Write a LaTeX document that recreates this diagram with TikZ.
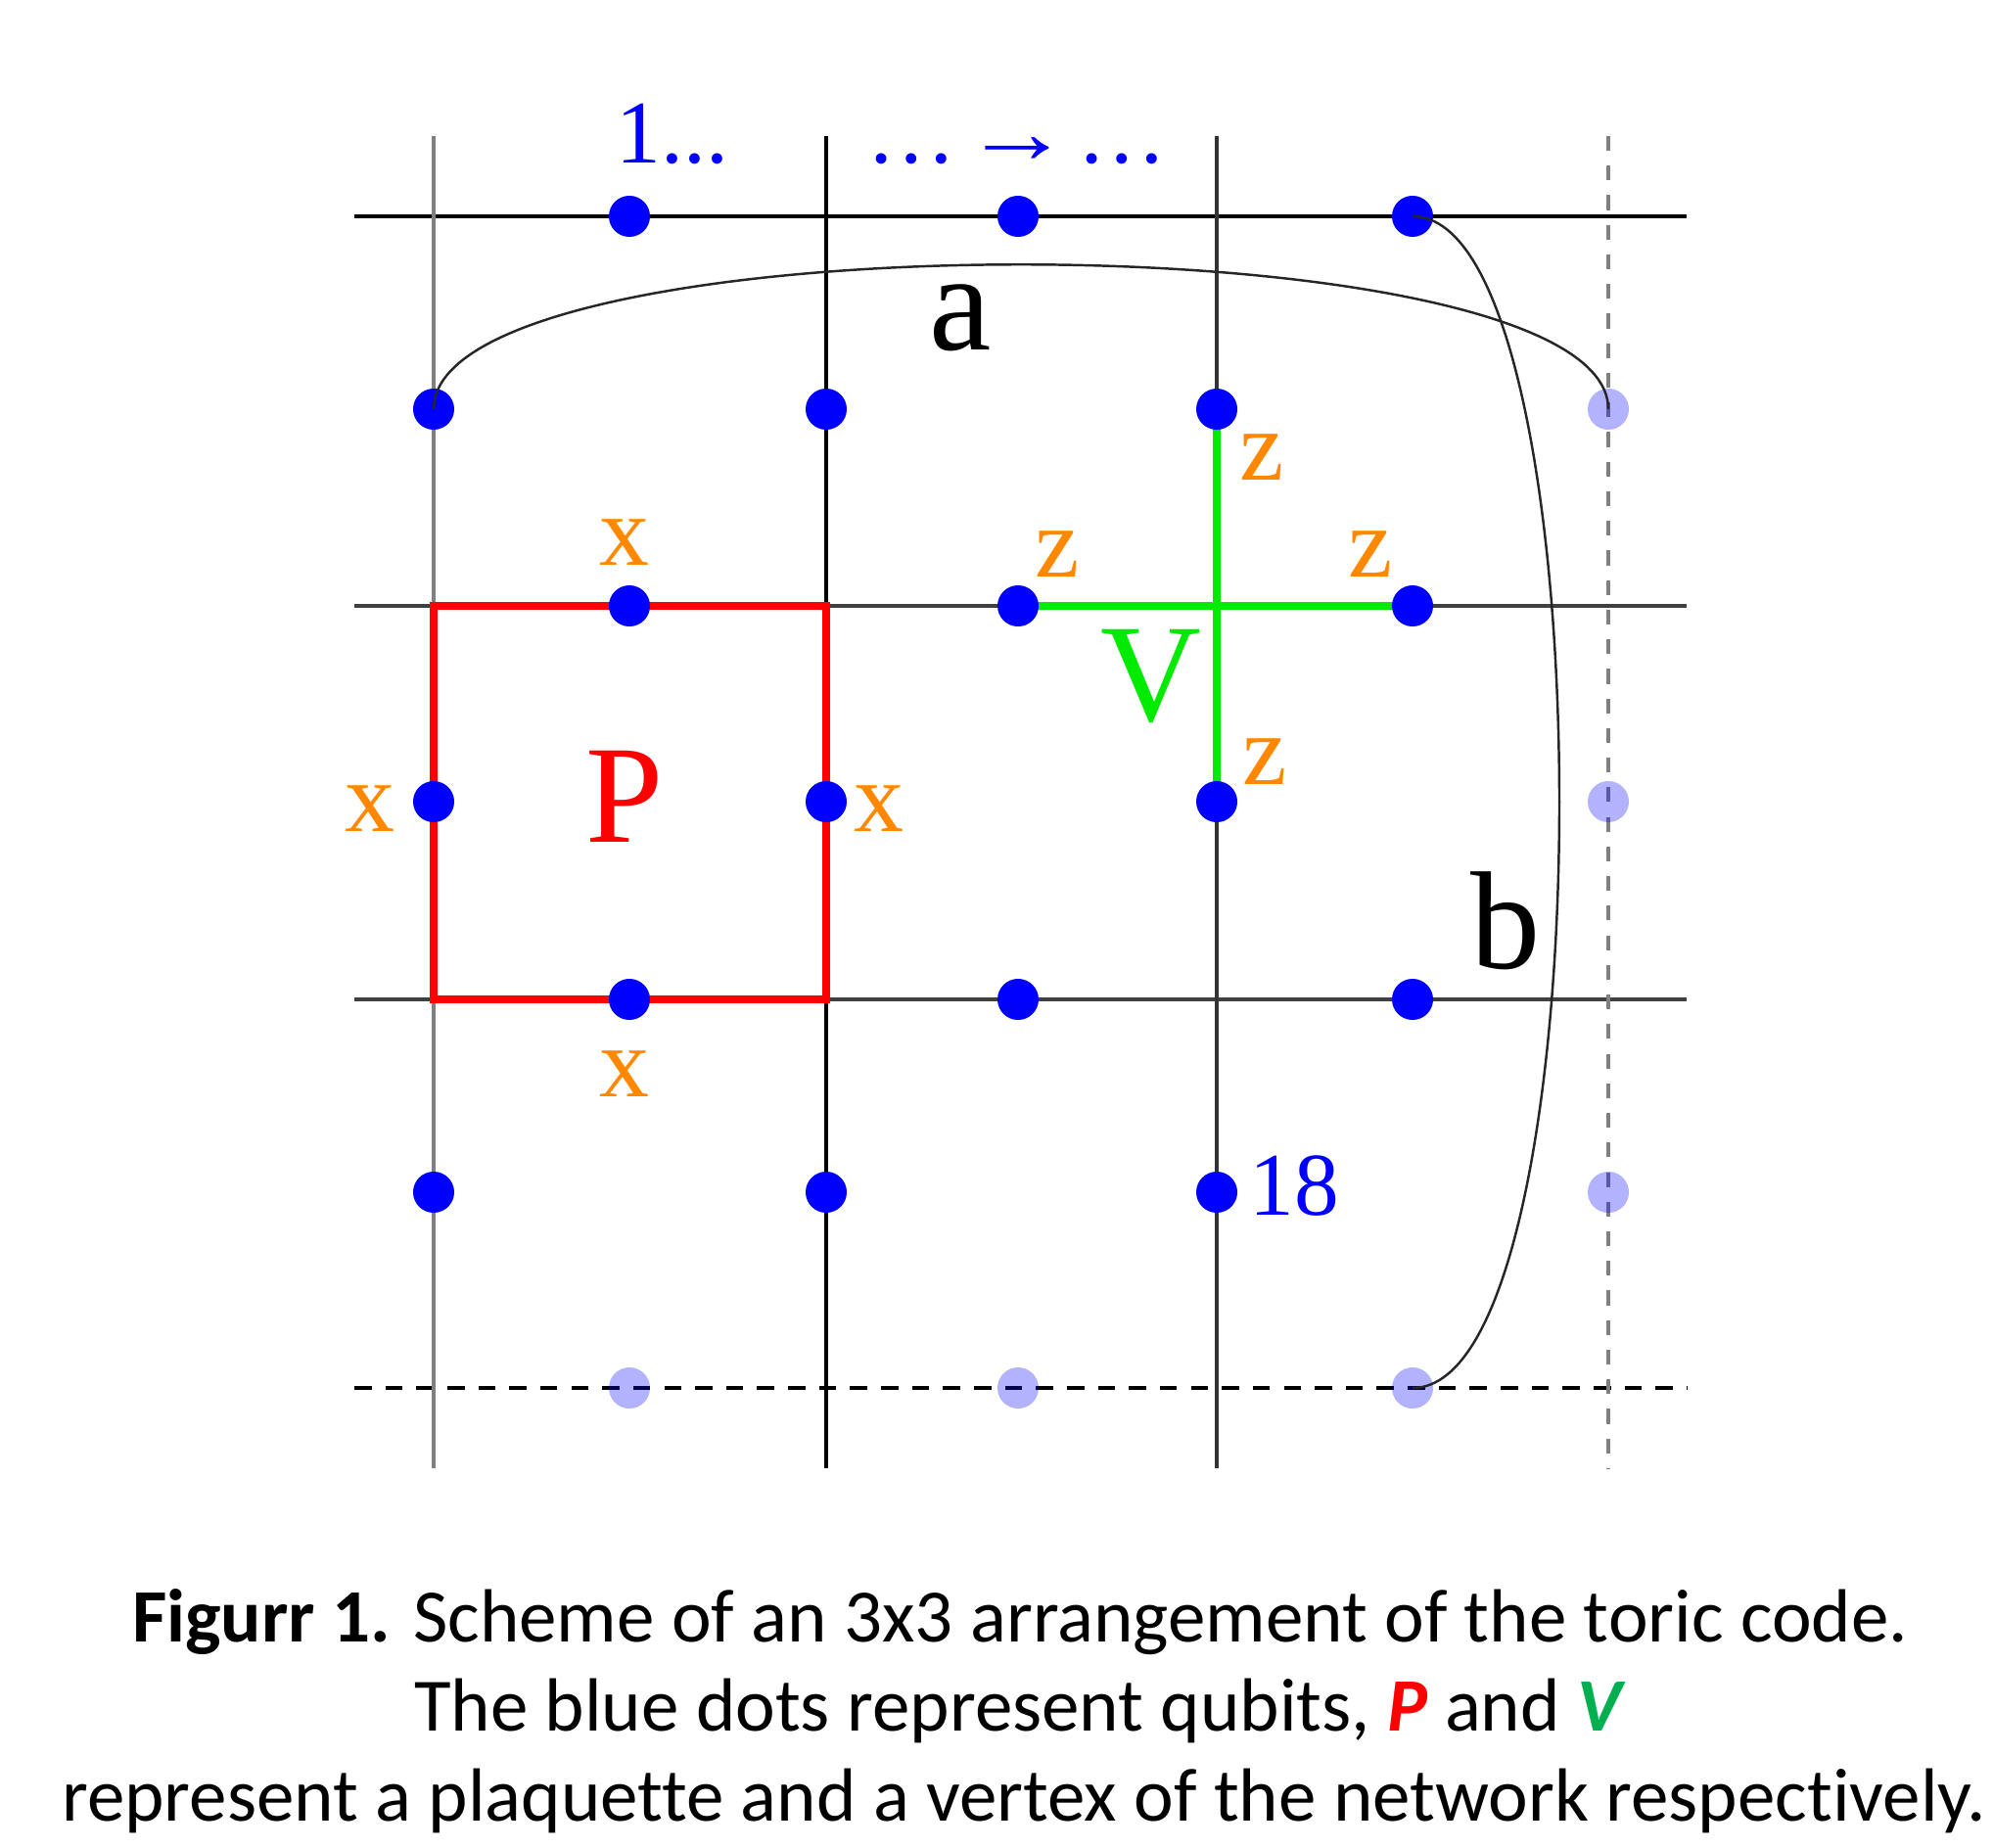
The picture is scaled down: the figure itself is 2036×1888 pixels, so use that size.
\documentclass[tikz,border=0pt]{standalone}
\usepackage{fontspec}
\setmainfont{Carlito}[Ligatures=NoCommon]
\newfontfamily\labelfont{Liberation Serif}
\usepackage{xcolor}
\usepackage{graphicx}
\usetikzlibrary{positioning,calc}

\definecolor{opcol}{RGB}{255,136,0}
\definecolor{vertgreen}{RGB}{0,235,0}
\definecolor{capgreen}{RGB}{0,176,80}

\begin{document}
\begin{tikzpicture}[x=0.01cm, y=-0.01cm,
      qubit/.style={circle, fill=blue, inner sep=0pt, minimum size=0.42cm},
      ghost/.style={qubit, fill opacity=0.3},
      lattice/.style={line width=0.9pt},
      link/.style={line width=0.7pt, black!85},
      oplabel/.style={font=\labelfont\fontsize{29}{29}\selectfont, text=opcol, inner sep=0pt},
      bigletter/.style={font=\labelfont\fontsize{40.5}{40.5}\selectfont, inner sep=0pt},
      qnum/.style={font=\labelfont\fontsize{26}{26}\selectfont, text=blue, inner sep=0pt},
      caption/.style={font=\fontsize{21.9}{26}\selectfont, anchor=base, inner sep=0pt}
  ]
  \useasboundingbox (0,0) rectangle (2036,1888);

  %% ---- Lattice ----
  \draw[lattice, black] (362,221) -- (1723,221);
  \draw[lattice, black!75] (362,619) -- (1723,619);
  \draw[lattice, black!75] (362,1021) -- (1723,1021);
  \draw[lattice, black, dash pattern=on 5pt off 4pt] (362,1418) -- (1723,1418);
  \draw[lattice, black!50, line width=1.1pt] (443,139) -- (443,1500);
  \draw[lattice, black] (844,139) -- (844,1500);
  \draw[lattice, black!80] (1243,139) -- (1243,1500);
  \draw[lattice, black!50, line width=1.1pt, dash pattern=on 4.3pt off 4.3pt] (1643,139) -- (1643,1500);

  %% ---- Plaquette and vertex ----
  \draw[red, line width=2pt] (443,619) rectangle (844,1021);
  \draw[vertgreen, line width=2pt] (1040,619) -- (1443,619);
  \draw[vertgreen, line width=2pt] (1243,418) -- (1243,819);

  %% ---- Qubits ----
  \foreach \i/\x in {1/643,2/1040,3/1443} {
    \foreach \j/\y in {1/221,2/619,3/1021}
      \node[qubit] (h\j\i) at (\x,\y) {};
    \node[ghost] (h4\i) at (\x,1418) {};
  }
  \foreach \j/\y in {1/418,2/819,3/1218} {
    \foreach \i/\x in {1/443,2/844,3/1243}
      \node[qubit] (v\j\i) at (\x,\y) {};
    \node[ghost] (v\j4) at (1643,\y) {};
  }

  %% ---- Loops a and b ----
  \draw[link] (v11.center) .. controls (v11 |- h11) and (v14 |- h13) .. (v14.center);
  \draw[link] (h13.center) .. controls (v14 |- h13) and (v14 |- h43) .. (h43.center);

  %% ---- Labels ----
  \node[qnum, anchor=base west] (first) at (629,167) {1...};
  \node[qnum, anchor=base west] (dir) at (885,167)
      {…\hspace{2pt}\scalebox{1.2}[1]{→}\hspace{2pt}…};
  \node[qnum] (last) at (1322,1212) {18};

  \node[oplabel] (xt) at (638,554) {x};
  \node[oplabel] (xl) at (378,826) {x};
  \node[oplabel] (xr) at (898,826) {x};
  \node[oplabel] (xb) at (638,1097) {x};

  \node[oplabel] (zt) at (1289,467) {z};
  \node[oplabel] (zl) at (1080,566) {z};
  \node[oplabel] (zr) at (1400,566) {z};
  \node[oplabel] (zb) at (1292,778) {z};

  \node[bigletter, text=red] (plaq) at (638,814) {P};
  \node[bigletter, text=vertgreen] (vert) at (1176,691) {V};
  \node[bigletter] (la) at (981,325) {a};
  \node[bigletter] (lb) at (1538,941) {b};

  %% ---- Caption ----
  \node[caption] (cap1) at (1042,1677)
      {\textbf{Figurr 1.} Scheme of an 3x3 arrangement of the toric code.};
  \node[caption] (cap2) at (1042,1768)
      {The blue dots represent qubits, \textcolor{red}{\textbf{\textit{P}}} and \textcolor{capgreen}{\textbf{\textit{V}}}};
  \node[caption] (cap3) at (1046,1860)
      {represent a plaquette and a vertex of the network respectively.};

\end{tikzpicture}
\end{document}
